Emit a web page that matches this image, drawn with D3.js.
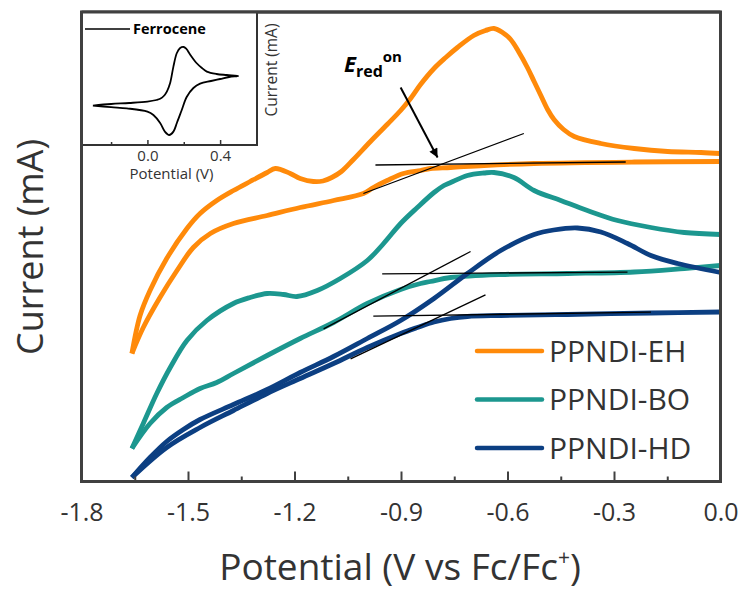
<!DOCTYPE html>
<html><head><meta charset="utf-8">
<script src="https://cdn.jsdelivr.net/npm/d3@7"></script>
<style>body{margin:0;background:#fff}svg{display:block}text{font-family:"Open Sans","Noto Sans",sans-serif}</style>
</head><body><svg id="c" width="744" height="592"></svg>
<script>
// ---------- data ----------
const potentialTicks = [-1.8, -1.5, -1.2, -0.9, -0.6, -0.3, 0.0];
const tickLabels = ["-1.8", "-1.5", "-1.2", "-0.9", "-0.6", "-0.3", "0.0"];
const minorTicks = [-1.65, -1.35, -1.05, -0.75, -0.45, -0.15];
const seriesNames = ["PPNDI-EH", "PPNDI-BO", "PPNDI-HD"];
const seriesColors = ["#FF8A0A", "#1C978F", "#0C3F82"];

// [potential (V), current (arb.)] — first branch from -1.66 V to 0 V, then back
const ehScan = [
  [-1.658,12.8],[-1.635,16.6],[-1.607,19.1],[-1.560,22.3],[-1.503,25.3],[-1.466,26.8],[-1.419,28.1],[-1.372,29.1],
  [-1.325,30.0],[-1.277,30.9],[-1.254,31.3],[-1.212,30.8],[-1.184,30.3],[-1.147,30.0],[-1.120,30.05],[-1.095,30.4],
  [-1.068,31.0],[-1.034,32.2],[-0.986,34.0],[-0.939,35.7],[-0.901,37.1],[-0.873,38.3],[-0.845,39.7],[-0.807,41.3],
  [-0.774,42.4],[-0.741,43.4],[-0.695,44.6],[-0.662,45.1],[-0.638,45.3],[-0.614,44.9],[-0.591,44.2],[-0.569,43.0],
  [-0.544,41.4],[-0.525,40.0],[-0.506,38.6],[-0.487,37.2],[-0.469,36.2],[-0.442,35.2],[-0.412,34.5],[-0.337,33.8],
  [-0.243,33.3],[-0.149,33.0],[-0.055,32.9],[0.0,32.8],
  [0.0,32.0],[-0.243,31.95],[-0.525,31.8],[-0.666,31.6],[-0.760,31.4],[-0.817,31.3],[-0.845,31.1],[-0.893,30.8],
  [-0.939,30.1],[-0.978,29.4],[-1.006,28.8],[-1.090,28.1],[-1.184,27.4],[-1.277,26.6],[-1.372,25.8],[-1.437,24.8],
  [-1.485,23.4],[-1.531,21.1],[-1.579,18.4],[-1.626,15.4],[-1.658,12.8]
];
const boScan = [
  [-1.658,3.3],[-1.626,5.8],[-1.588,8.8],[-1.550,11.4],[-1.503,14.1],[-1.447,16.1],[-1.372,17.8],[-1.325,18.4],
  [-1.277,18.8],[-1.231,18.7],[-1.193,18.5],[-1.136,19.1],[-1.071,20.3],[-0.995,22.1],[-0.949,23.8],[-0.901,25.8],
  [-0.854,27.4],[-0.807,28.9],[-0.779,29.6],[-0.760,29.9],[-0.713,30.6],[-0.666,30.85],[-0.638,30.9],[-0.582,30.4],
  [-0.525,29.1],[-0.450,28.1],[-0.375,27.1],[-0.290,26.1],[-0.196,25.4],[-0.102,24.9],[0.0,24.7],
  [0.0,21.6],[-0.102,21.3],[-0.243,20.95],[-0.431,20.8],[-0.619,20.7],[-0.760,20.4],[-0.817,20.0],[-0.845,19.8],
  [-0.901,19.2],[-0.995,17.8],[-1.090,15.9],[-1.184,14.3],[-1.277,12.6],[-1.372,10.8],[-1.419,9.9],[-1.466,9.3],
  [-1.513,8.4],[-1.560,7.4],[-1.607,5.8],[-1.658,3.3]
];
const hdScan = [
  [-1.658,0.4],[-1.607,2.4],[-1.560,4.0],[-1.513,5.2],[-1.466,6.2],[-1.372,7.7],[-1.277,9.2],[-1.184,10.9],
  [-1.090,12.5],[-0.995,14.3],[-0.901,16.1],[-0.807,18.3],[-0.713,20.8],[-0.619,23.1],[-0.525,24.7],[-0.470,25.15],
  [-0.403,25.35],[-0.337,24.95],[-0.262,23.8],[-0.196,22.6],[-0.121,21.8],[0.0,20.9],
  [0.0,16.95],[-0.196,16.85],[-0.431,16.7],[-0.619,16.6],[-0.713,16.5],[-0.760,16.3],[-0.807,15.95],[-0.854,15.4],
  [-0.901,14.8],[-0.995,13.4],[-1.090,11.8],[-1.184,10.3],[-1.277,8.8],[-1.372,7.1],[-1.466,5.4],[-1.560,3.4],[-1.658,0.4]
];
// onset tangent lines [[V1,I1],[V2,I2]]
const ehTangents = [[[-0.972,31.65],[-0.267,31.95]], [[-1.006,28.8],[-0.554,34.8]]];
const boTangents = [[[-0.953,20.77],[-0.262,20.93]], [[-1.118,15.27],[-0.704,23.0]]];
const hdTangents = [[[-0.978,16.53],[-0.196,16.93]], [[-1.042,12.27],[-0.662,18.67]]];

// inset: ferrocene CV
const ferroceneScan = [
  [-0.30,0.02],[-0.2,0.1],[-0.1,0.15],[0.0,0.22],[0.05,0.3],[0.07,0.36],[0.09,0.5],[0.107,0.72],[0.125,1.15],
  [0.143,1.97],[0.162,2.65],[0.18,2.9],[0.2,2.95],[0.215,2.85],[0.233,2.6],[0.27,2.15],[0.3,1.9],[0.327,1.72],
  [0.38,1.6],[0.437,1.55],[0.5,1.5],
  [0.45,1.45],[0.4,1.35],[0.35,1.25],[0.29,1.12],[0.253,0.9],[0.216,0.45],[0.189,-0.2],[0.162,-0.85],[0.143,-1.28],
  [0.12,-1.45],[0.096,-1.28],[0.07,-0.85],[0.033,-0.45],[0.0,-0.28],[-0.113,-0.12],[-0.2,-0.06],[-0.30,0.02]
];
const insetTicks = [0.0, 0.4];
const insetMinorTicks = [-0.2, 0.2];

// ---------- drawing ----------
const svg = d3.select("#c");
const L = 81.5, R = 720.5, T = 12, B = 481.5;
const x = d3.scaleLinear().domain([-1.8, 0]).range([L, R]);
const y = d3.scaleLinear().domain([0, 46.95]).range([B, T]);

const line = d3.line().x(d => x(d[0])).y(d => y(d[1])).curve(d3.curveCatmullRom.alpha(0.5));
const scans = [ehScan, boScan, hdScan];
const tangents = [ehTangents, boTangents, hdTangents];

// split each scan at the 0 V switching point (edge of the plotted window)
function branches(s) {
  const k = s.findIndex((d, i) => i < s.length - 1 && d[0] === 0 && s[i + 1][0] === 0);
  return [s.slice(0, k + 1), s.slice(k + 1)];
}
scans.forEach((s, i) => {
  branches(s).forEach(b => {
    svg.append("path").attr("d", line(b)).attr("fill", "none")
      .attr("stroke", seriesColors[i]).attr("stroke-width", 4.8)
      .attr("stroke-linejoin", "round").attr("stroke-linecap", "butt");
  });
});
tangents.forEach(tg => tg.forEach(seg => {
  svg.append("line").attr("x1", x(seg[0][0])).attr("y1", y(seg[0][1]))
    .attr("x2", x(seg[1][0])).attr("y2", y(seg[1][1]))
    .attr("stroke", "#000").attr("stroke-width", 1.3);
}));

// axis
const ax = svg.append("g").attr("transform", `translate(0,${B})`)
  .call(d3.axisBottom(x).tickValues(potentialTicks).tickFormat((d, i) => tickLabels[i])
    .tickSizeInner(-10).tickSizeOuter(0).tickPadding(22));
ax.select(".domain").remove();
ax.selectAll(".tick line").attr("stroke", "#404040").attr("stroke-width", 2);
ax.selectAll(".tick text").attr("font-size", 25).attr("fill", "#333");
const axm = svg.append("g").attr("transform", `translate(0,${B})`)
  .call(d3.axisBottom(x).tickValues(minorTicks).tickFormat("").tickSizeInner(-5).tickSizeOuter(0));
axm.select(".domain").remove();
axm.selectAll(".tick line").attr("stroke", "#404040").attr("stroke-width", 2);

// frame
svg.append("rect").attr("x", L).attr("y", T).attr("width", R - L).attr("height", B - T)
  .attr("fill", "none").attr("stroke", "#404040").attr("stroke-width", 3);

// axis titles
const xt = svg.append("text").attr("x", 400).attr("y", 580).attr("text-anchor", "middle")
  .attr("font-size", 37).attr("fill", "#333");
xt.append("tspan").text("Potential (V vs Fc/Fc");
xt.append("tspan").attr("dy", -15).attr("font-size", 21).text("+");
xt.append("tspan").attr("dy", 15).text(")");
svg.append("text").attr("transform", "translate(30,247) rotate(-90)").attr("text-anchor", "middle")
  .attr("dy", "0.36em").attr("font-size", 36).attr("fill", "#333").text("Current (mA)");

// legend
seriesNames.forEach((n, i) => {
  const ly = 351 + i * 48.5;
  svg.append("line").attr("x1", 477).attr("x2", 542).attr("y1", ly).attr("y2", ly)
    .attr("stroke", seriesColors[i]).attr("stroke-width", 4.5).attr("stroke-linecap", "round");
  svg.append("text").attr("x", 549).attr("y", ly).attr("dy", "0.35em").attr("font-size", 30)
    .attr("fill", "#333").text(n);
});

// annotation E_red^on
const et = svg.append("text").attr("x", 344).attr("y", 72).attr("font-weight", "bold").attr("fill", "#000");
et.append("tspan").attr("font-size", 22).attr("font-style", "italic").text("E");
et.append("tspan").attr("font-size", 16).attr("dy", 5).text("red");
et.append("tspan").attr("font-size", 15).attr("dy", -15).text("on");
svg.append("defs").append("marker").attr("id", "ah").attr("viewBox", "0 0 10 10")
  .attr("refX", 10).attr("refY", 5).attr("markerWidth", 12).attr("markerHeight", 9)
  .attr("markerUnits", "userSpaceOnUse").attr("orient", "auto")
  .append("path").attr("d", "M0,0 L10,5 L0,10 Z").attr("fill", "#000");
svg.append("line").attr("x1", x(-0.901)).attr("y1", y(39.4)).attr("x2", x(-0.797)).attr("y2", y(32.4))
  .attr("stroke", "#000").attr("stroke-width", 2).attr("marker-end", "url(#ah)");

// ---------- inset ----------
const iL = 82, iR = 257, iT = 12, iB = 145;
const xi = d3.scaleLinear().domain([-0.36, 0.603]).range([iL, iR]);
const yi = d3.scaleLinear().domain([-1.95, 4.7]).range([iB, iT]);
svg.append("rect").attr("x", iL).attr("y", iT).attr("width", iR - iL).attr("height", iB - iT)
  .attr("fill", "#fff").attr("stroke", "none");
svg.append("path").attr("d", d3.line().x(d => xi(d[0])).y(d => yi(d[1])).curve(d3.curveCatmullRom.alpha(0.5))(ferroceneScan))
  .attr("fill", "none").attr("stroke", "#000").attr("stroke-width", 1.8);
const iax = svg.append("g").attr("transform", `translate(0,${iB})`)
  .call(d3.axisBottom(xi).tickValues(insetTicks).tickFormat(d3.format(".1f")).tickSizeInner(-5).tickSizeOuter(0).tickPadding(5));
iax.select(".domain").remove();
iax.selectAll(".tick line").attr("stroke", "#333").attr("stroke-width", 1.5);
iax.selectAll(".tick text").attr("font-size", 15).attr("fill", "#333");
const iaxm = svg.append("g").attr("transform", `translate(0,${iB})`)
  .call(d3.axisBottom(xi).tickValues(insetMinorTicks).tickFormat("").tickSizeInner(-3).tickSizeOuter(0));
iaxm.select(".domain").remove();
iaxm.selectAll(".tick line").attr("stroke", "#333").attr("stroke-width", 1.5);
svg.append("path").attr("d", `M${iL},${iB}H${iR}V${iT}`).attr("fill", "none").attr("stroke", "#333").attr("stroke-width", 2);
svg.append("line").attr("x1", L).attr("x2", L).attr("y1", T).attr("y2", B).attr("stroke", "#404040").attr("stroke-width", 3);
svg.append("line").attr("x1", L).attr("x2", R).attr("y1", T).attr("y2", T).attr("stroke", "#404040").attr("stroke-width", 3);
svg.append("text").attr("x", (iL + iR) / 2 + 2).attr("y", 179).attr("text-anchor", "middle")
  .attr("font-size", 15).attr("fill", "#333").text("Potential (V)");
svg.append("text").attr("transform", "translate(272,70) rotate(-90)").attr("text-anchor", "middle")
  .attr("dy", "0.35em").attr("font-size", 15.5).attr("fill", "#333").text("Current (mA)");
svg.append("line").attr("x1", 85).attr("x2", 130).attr("y1", 29).attr("y2", 29).attr("stroke", "#000").attr("stroke-width", 1.5);
svg.append("text").attr("x", 133).attr("y", 34).attr("font-size", 14.5).attr("font-weight", "bold")
  .attr("fill", "#000").text("Ferrocene");
</script></body></html>
